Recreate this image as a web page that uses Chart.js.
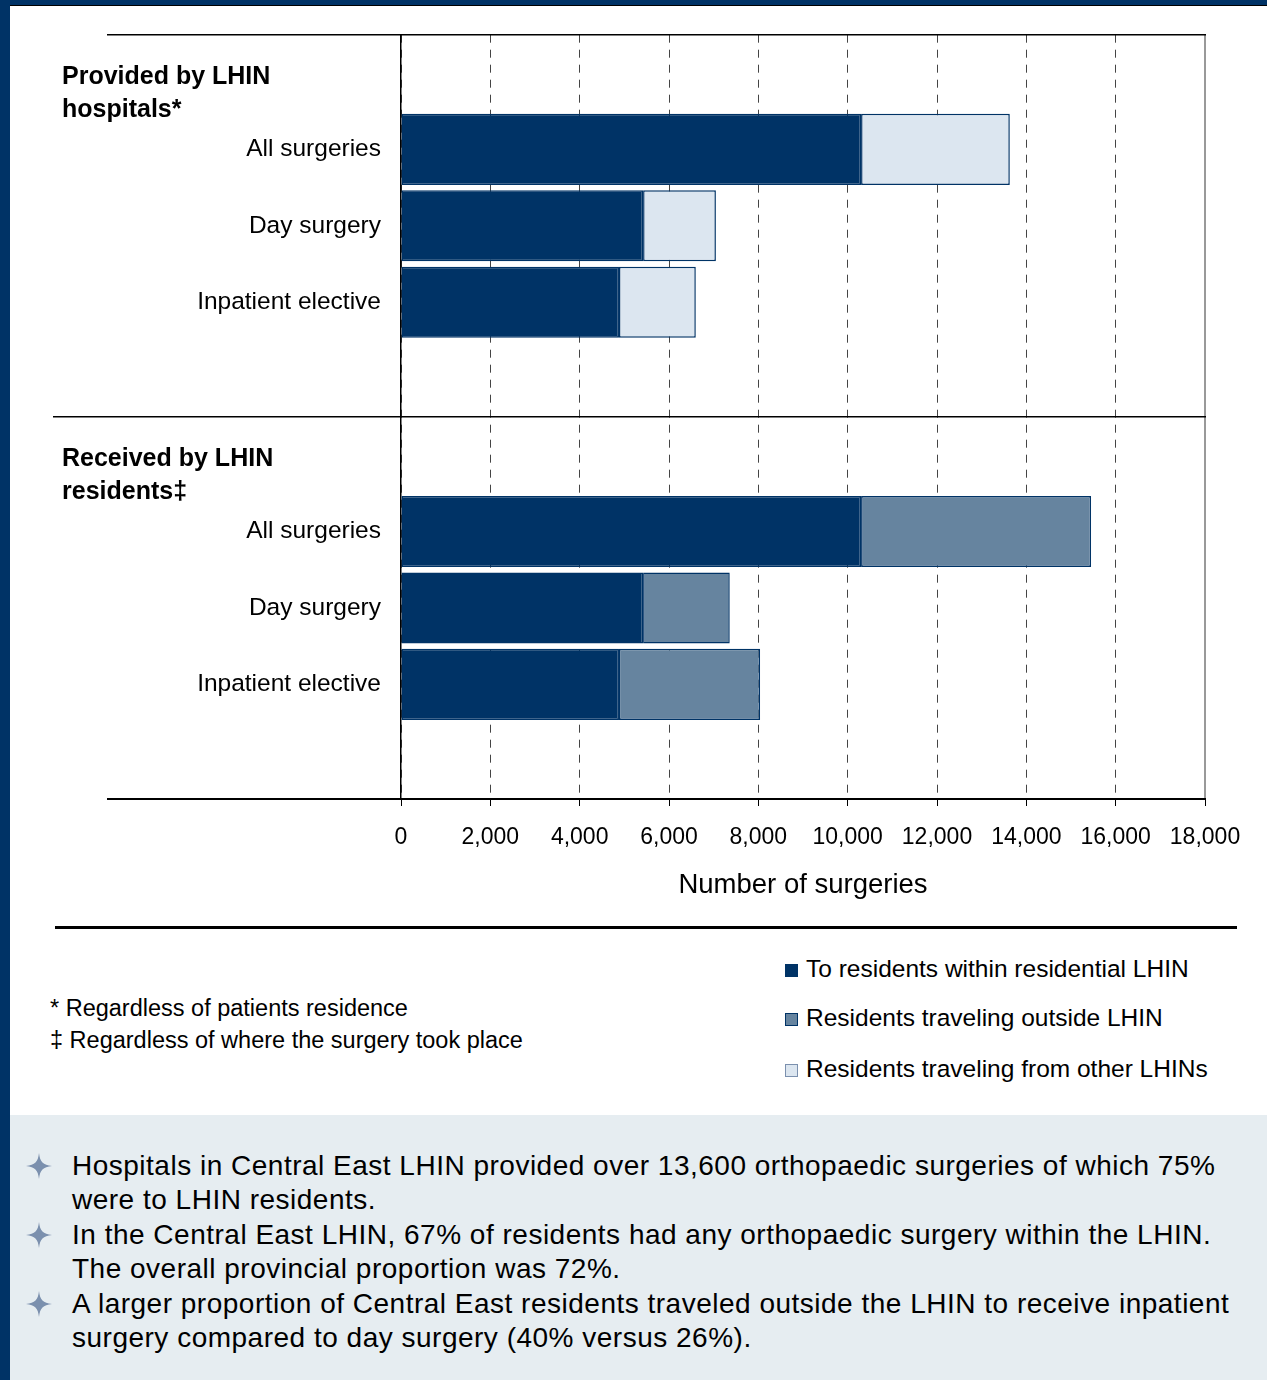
<!DOCTYPE html>
<html>
<head>
    <title>Orthopaedic surgeries - Central East LHIN</title>
    <script src="https://cdn.jsdelivr.net/npm/chart.js"></script>
    <style>
        body {
            margin: 0;
            background-color: #ffffff;
            font-family: 'Liberation Sans', Arial, sans-serif;
        }
        #page {
            position: relative;
            width: 1267px;
            height: 1380px;
            overflow: hidden;
            background-color: #ffffff;
            border-left: 10px solid #003366;
            box-sizing: border-box;
        }
        #topStrip {
            position: absolute;
            left: 0; top: 0;
            width: 100%;
            height: 5px;
            background-color: #003366;
            border-bottom: 1px solid #000;
        }
        #chartBox {
            position: absolute;
            left: -10px; top: 0;
            width: 1267px;
            height: 920px;
        }
        #rule {
            position: absolute;
            left: 45px; top: 926px;
            width: 1182px;
            height: 3px;
            background-color: #000;
        }
        .note {
            position: absolute;
            left: 40px;
            font-size: 23.5px;
            color: #000;
            white-space: nowrap;
        }
        .legendItem {
            position: absolute;
            left: 775px;
            font-size: 24.5px;
            color: #000;
            white-space: nowrap;
            line-height: 26px;
        }
        .swatch {
            display: inline-block;
            width: 13px;
            height: 13px;
            margin-right: 8px;
            vertical-align: 0px;
            box-sizing: border-box;
        }
        #summary {
            position: absolute;
            left: 0; top: 1115px;
            width: 1257px;
            height: 265px;
            background-color: #e6edf1;
        }
        .bullet {
            position: absolute;
            left: 62px;
            width: 1190px;
            font-size: 28px;
            letter-spacing: 0.5px;
            line-height: 34px;
            color: #000;
        }
        .star {
            position: absolute;
            left: -46px;
            top: 4px;
        }
    </style>
</head>
<body>
<div id="page">
    <div id="topStrip"></div>
    <div id="chartBox"><canvas id="chart"></canvas></div>
    <div id="rule"></div>

    <div class="note" style="top: 995px;">* Regardless of patients residence</div>
    <div class="note" style="top: 1027px;">&#8225; Regardless of where the surgery took place</div>

    <div id="legend"></div>

    <div id="summary">
        <div class="bullet" style="top: 34px;">
            <svg class="star" width="26" height="26" viewBox="0 0 26 26"><path d="M13 0 C14 9 17 12 26 13 C17 14 14 17 13 26 C12 17 9 14 0 13 C9 12 12 9 13 0 Z" fill="#7b90ae"/></svg>
            Hospitals in Central East LHIN provided over 13,600 orthopaedic surgeries of which 75% were to LHIN residents.
        </div>
        <div class="bullet" style="top: 103px;">
            <svg class="star" width="26" height="26" viewBox="0 0 26 26"><path d="M13 0 C14 9 17 12 26 13 C17 14 14 17 13 26 C12 17 9 14 0 13 C9 12 12 9 13 0 Z" fill="#7b90ae"/></svg>
            In the Central East LHIN, 67% of residents had any orthopaedic surgery within the LHIN. The overall provincial proportion was 72%.
        </div>
        <div class="bullet" style="top: 172px;">
            <svg class="star" width="26" height="26" viewBox="0 0 26 26"><path d="M13 0 C14 9 17 12 26 13 C17 14 14 17 13 26 C12 17 9 14 0 13 C9 12 12 9 13 0 Z" fill="#7b90ae"/></svg>
            A larger proportion of Central East residents traveled outside the LHIN to receive inpatient surgery compared to day surgery (40% versus 26%).
        </div>
    </div>
</div>

<script>
    // rows of the chart, top to bottom (blank rows hold the group headings / spacing)
    const rowLabels = ['', 'All surgeries', 'Day surgery', 'Inpatient elective', '',
                       '', 'All surgeries', 'Day surgery', 'Inpatient elective', ''];
    const groupHeadings = [['Provided by LHIN', 'hospitals*'], ['Received by LHIN', 'residents\u2021']];

    // values
    const providedWithin = [10300, 5420, 4880];     // provided by LHIN hospitals, to own residents
    const providedFromOther = [3330, 1630, 1720];   // residents traveling from other LHINs
    const receivedWithin = [10300, 5420, 4880];     // received by LHIN residents, within LHIN
    const receivedOutside = [5150, 1940, 3160];     // residents traveling outside LHIN

    const seriesNames = ['To residents within residential LHIN', 'Residents traveling outside LHIN', 'Residents traveling from other LHINs'];
    const xTicks = [0, 2000, 4000, 6000, 8000, 10000, 12000, 14000, 16000, 18000];
    const xMax = 18000;

    const NAVY = '#003366';
    const MID = '#66849f';
    const LIGHT = '#dce6f0';

    // build 10-row arrays: rows 1-3 are the top group, rows 6-8 the bottom group
    function rows(top, bottom) {
        return [null, ...top, null, null, ...bottom, null];
    }
    const withinData = rows(providedWithin, receivedWithin);
    const outsideData = rows([null, null, null], receivedOutside);
    const fromOtherData = rows(providedFromOther, [null, null, null]);

    const framePlugin = {
        id: 'framePlugin',
        afterDraw(chart) {
            const ctx = chart.ctx;
            const area = chart.chartArea;
            const y = chart.scales.y;
            ctx.save();
            // right edge of the plot, solid grey
            ctx.strokeStyle = '#999';
            ctx.lineWidth = 2;
            ctx.beginPath();
            ctx.moveTo(area.right, area.top);
            ctx.lineTo(area.right, area.bottom);
            ctx.stroke();

            ctx.strokeStyle = '#000';
            // top line
            ctx.lineWidth = 1.5;
            ctx.beginPath();
            ctx.moveTo(107, area.top);
            ctx.lineTo(area.right + 1, area.top);
            ctx.stroke();
            // line between the two groups
            const midY = (y.getPixelForValue(4) + y.getPixelForValue(5)) / 2;
            ctx.beginPath();
            ctx.moveTo(53, midY);
            ctx.lineTo(area.right + 1, midY);
            ctx.stroke();
            // bottom line extension to the left
            ctx.lineWidth = 2;
            ctx.beginPath();
            ctx.moveTo(107, area.bottom);
            ctx.lineTo(area.right + 1, area.bottom);
            ctx.stroke();

            // group headings
            ctx.fillStyle = '#000';
            ctx.font = 'bold 25px "Liberation Sans", Arial, sans-serif';
            ctx.textAlign = 'left';
            ctx.textBaseline = 'middle';
            [0, 5].forEach((row, g) => {
                const cy = y.getPixelForValue(row);
                groupHeadings[g].forEach((line, i) => {
                    ctx.fillText(line, 62, cy + 4 + i * 33);
                });
            });
            ctx.restore();
        }
    };

    const barStyle = { borderColor: NAVY, borderWidth: 1.5, borderSkipped: false, barPercentage: 0.93, categoryPercentage: 1.0 };

    new Chart(document.getElementById('chart'), {
        type: 'bar',
        data: {
            labels: rowLabels,
            datasets: [
                { label: seriesNames[0], data: withinData, backgroundColor: NAVY, ...barStyle },
                { label: seriesNames[1], data: outsideData, backgroundColor: MID, ...barStyle },
                { label: seriesNames[2], data: fromOtherData, backgroundColor: LIGHT, ...barStyle }
            ]
        },
        options: {
            indexAxis: 'y',
            responsive: true,
            maintainAspectRatio: false,
            animation: false,
            layout: { padding: { top: 34, right: 62, left: 0, bottom: 0 } },
            plugins: {
                legend: { display: false },
                tooltip: { enabled: false }
            },
            scales: {
                x: {
                    stacked: true,
                    min: 0,
                    max: xMax,
                    afterFit(scale) { scale.height = 121; },
                    afterBuildTicks(scale) { scale.ticks = xTicks.map(v => ({ value: v })); },
                    ticks: {
                        color: '#000',
                        font: { size: 23, family: '"Liberation Sans", Arial, sans-serif' },
                        padding: 18,
                        maxRotation: 0,
                        callback: v => v.toLocaleString('en-US')
                    },
                    grid: {
                        color: c => (c.tick && c.tick.value === xMax) ? 'rgba(0,0,0,0)' : '#444',
                        lineWidth: 1,
                        tickLength: 7,
                        tickColor: '#000',
                        drawOnChartArea: true
                    },
                    border: { display: true, color: '#000', width: 2, dash: [8, 7] },
                    title: {
                        display: true,
                        text: 'Number of surgeries',
                        color: '#000',
                        font: { size: 27.5, family: '"Liberation Sans", Arial, sans-serif' },
                        padding: { top: 18, bottom: 18 }
                    }
                },
                y: {
                    stacked: true,
                    afterFit(scale) { scale.width = 401; },
                    ticks: {
                        color: '#000',
                        font: { size: 24.5, family: '"Liberation Sans", Arial, sans-serif' },
                        padding: 20
                    },
                    grid: { display: false, drawTicks: false },
                    border: { display: true, color: '#000', width: 1.5 }
                }
            }
        },
        plugins: [framePlugin]
    });

    // legend in the footer, from the same series names and colours
    const legendColors = [[NAVY, NAVY], [MID, NAVY], [LIGHT, '#7b90ae']];
    const legendTops = [956, 1005, 1056];
    const legendDiv = document.getElementById('legend');
    [0, 1, 2].forEach(i => {
        const item = document.createElement('div');
        item.className = 'legendItem';
        item.style.top = legendTops[i] + 'px';
        item.innerHTML = `<span class="swatch" style="background:${legendColors[i][0]};border:1px solid ${legendColors[i][1]}"></span>${seriesNames[i]}`;
        legendDiv.appendChild(item);
    });
</script>
</body>
</html>
